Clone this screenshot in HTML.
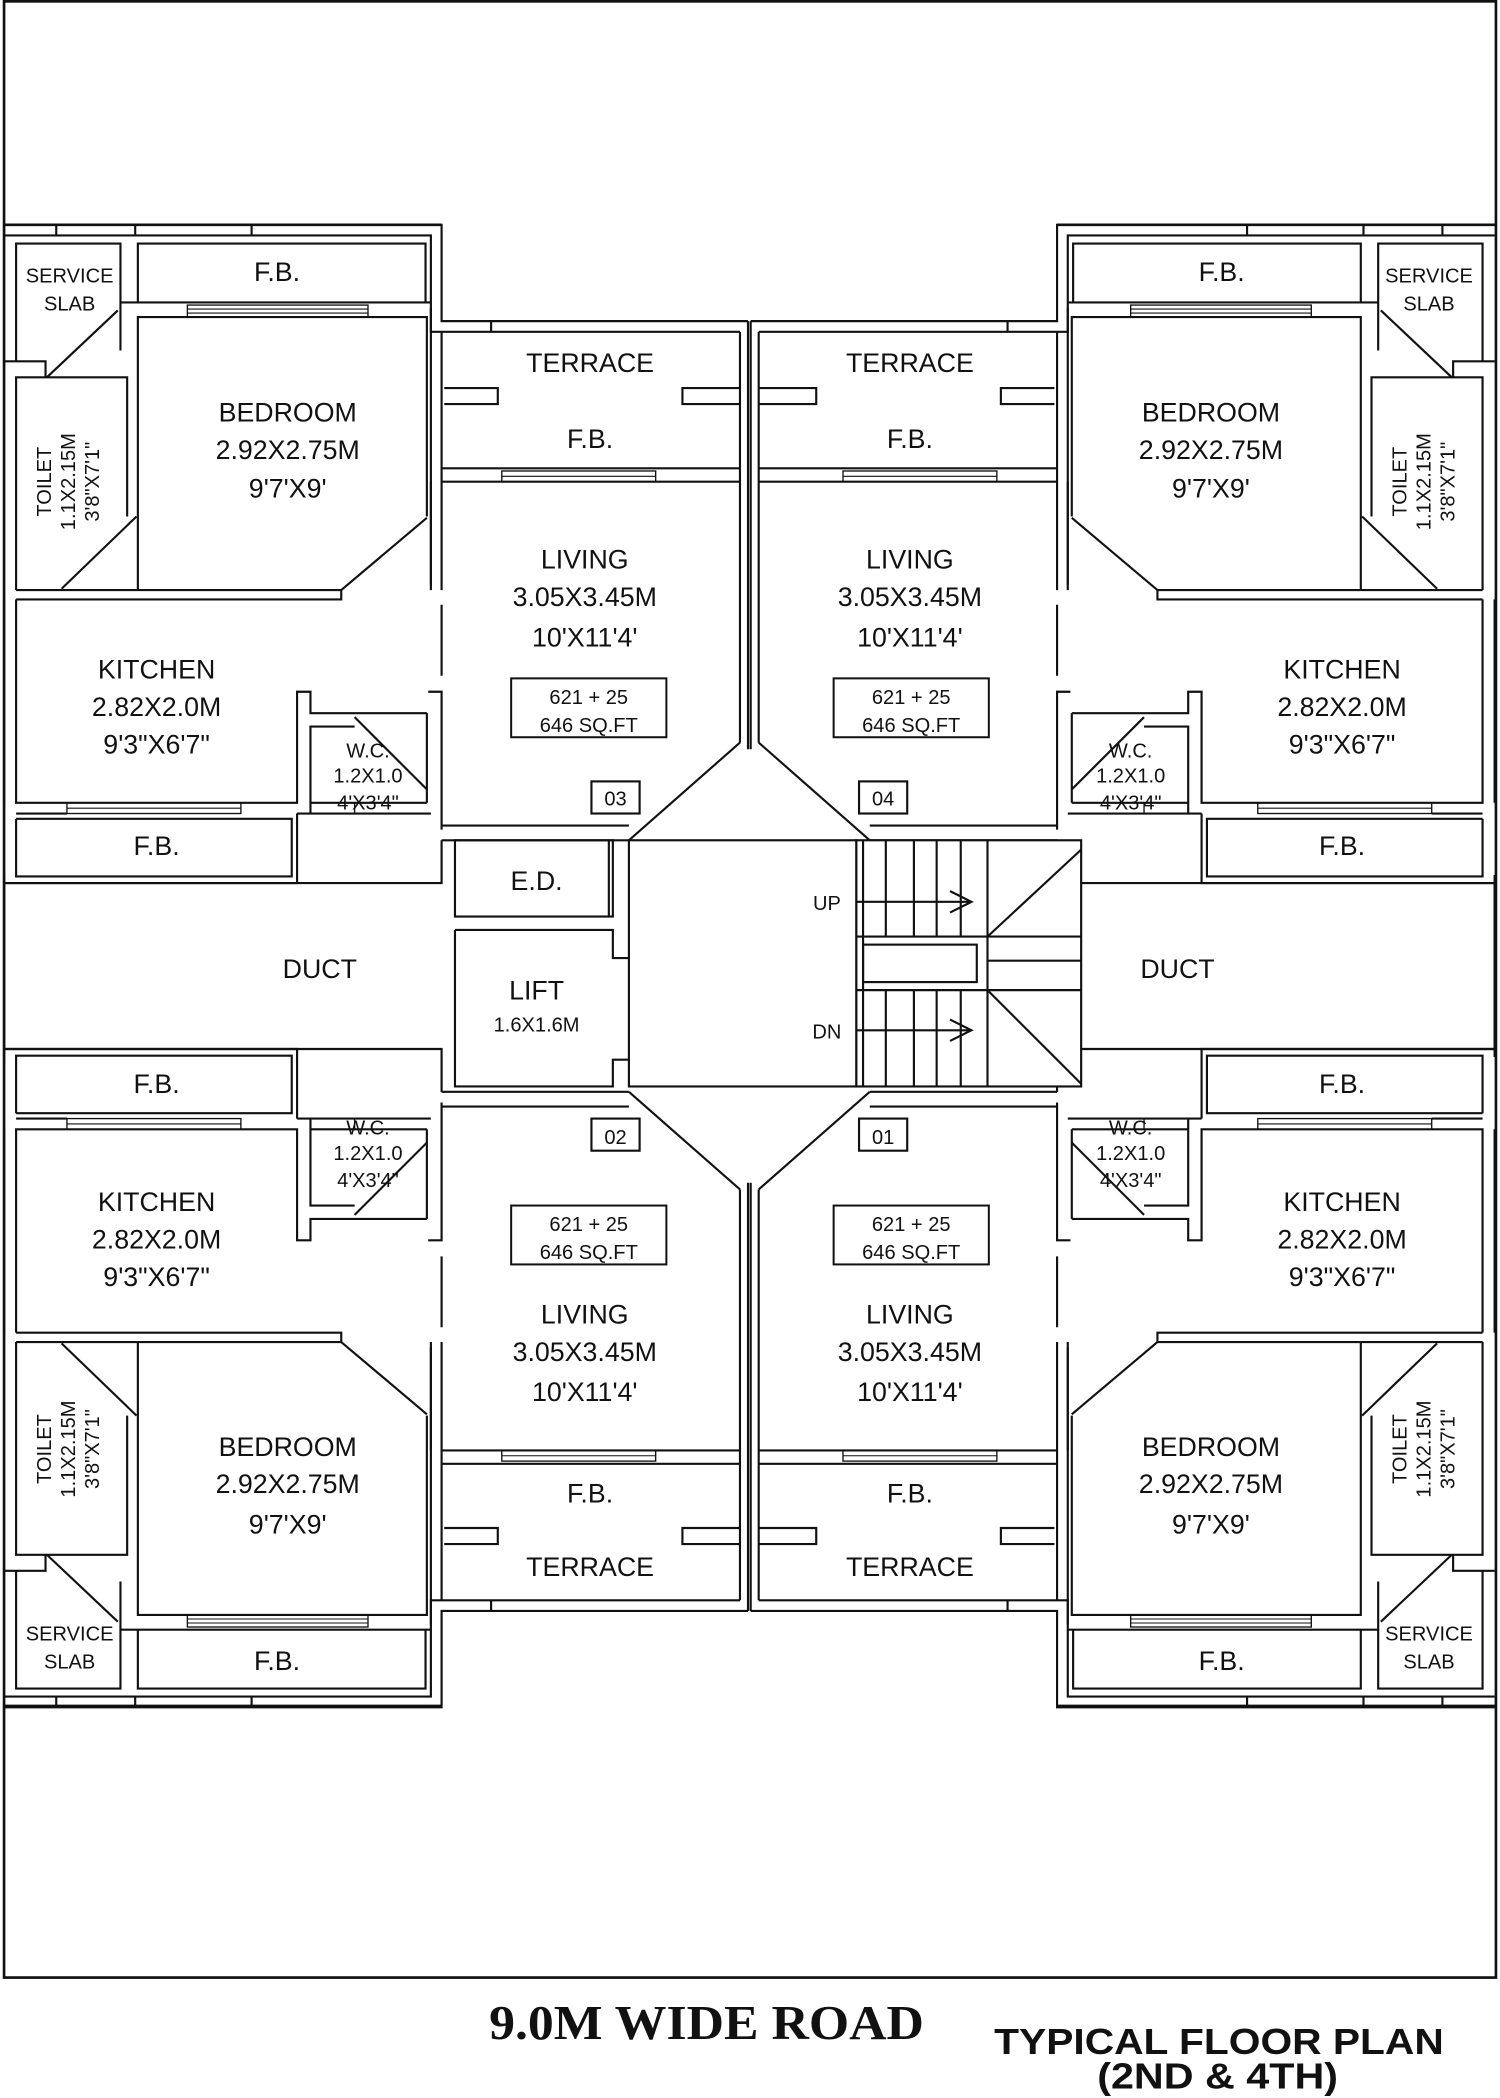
<!DOCTYPE html>
<html><head><meta charset="utf-8"><style>
html,body{margin:0;padding:0;background:#fff}
svg{display:block}
text{font-family:"Liberation Sans",sans-serif;fill:#111;text-anchor:middle}
.r{font-size:20px}
.s{font-size:15px}
</style></head><body>
<svg width="1500" height="2098" viewBox="0 0 1121 1568" xmlns="http://www.w3.org/2000/svg">
<defs>
<g id="q" fill="none" stroke="#111" stroke-width="1.6">
  <path d="M3,168 H330 V240 H559"/>
  <path d="M3,176 H322 V248 H553"/>
  <path d="M12,270 V182 H90 V262"/>
  <line x1="88" y1="232" x2="35" y2="282"/>
  <path d="M3,270 H34 V282"/>
  <path d="M103,226 V182 H318 V226"/>
  <line x1="42" y1="176" x2="42" y2="168"/><line x1="101" y1="176" x2="101" y2="168"/><line x1="188" y1="176" x2="188" y2="168"/><line x1="367" y1="248" x2="367" y2="240"/>
  <path d="M90,226 H322"/>
  <path d="M103,441 V237 H319 V386"/>
  <rect x="140" y="228" width="135" height="9" stroke-width="1"/>
  <line x1="140" y1="231" x2="275" y2="231" stroke-width="0.8"/><line x1="140" y1="234" x2="275" y2="234" stroke-width="0.8"/>
  <line x1="319" y1="387" x2="255" y2="441"/>
  <path d="M322,230 V441"/><path d="M330,248 V441" />
  <path d="M12,448 H255 V441 H103"/>
  <path d="M12,441 V282 H95 V386"/>
  <line x1="102" y1="386" x2="46" y2="440"/>
  <path d="M12,441 H103"/>
  <path d="M12,448 V600 H222 V517 H232 V533 H319"/>
  <path d="M3,448 V600"/>
  <path d="M232,608 V543 H265"/>
  <path d="M319,533 V600"/>
  <path d="M222,608 H322"/>
  <path d="M232,600 H319"/>
  <rect x="232" y="600" width="33" height="8" stroke-width="1"/>
  <path d="M12,608 H50"/>
  <rect x="50" y="600" width="130" height="8" stroke-width="1"/>
  <line x1="50" y1="604" x2="180" y2="604" stroke-width="0.8"/>
  <line x1="265" y1="536" x2="319" y2="590"/>
  <path d="M12,612 V655 H218 V612 H12"/>
  <path d="M222,608 V660 H3"/>
  <path d="M320,517 H330 V620"/>
  <path d="M322,360 V437"/>
  <path d="M330,452 V505"/>
  <path d="M330,350 H553"/><path d="M330,360 H553"/>
  <rect x="375" y="352" width="115" height="8" stroke-width="1"/>
  <line x1="375" y1="356" x2="490" y2="356" stroke-width="0.8"/>
  <path d="M330,617 H470"/><path d="M330,628 H470"/>
  <path d="M553,248 V555"/><path d="M559,240 V560"/>
  <line x1="553" y1="555" x2="470" y2="628"/>
  <path d="M332,290 H372 V302 H332"/>
  <path d="M553,290 H510 V302 H553"/>
  <rect x="442" y="584" width="36" height="24"/>
  <path d="M3,660 V790"/>
  <path d="M330,628 V660 H3"/>
</g>
</defs>
<rect x="3" y="1" width="1115" height="1477" fill="none" stroke="#111" stroke-width="2"/>
<line x1="3" y1="1275" x2="330" y2="1275" stroke="#111" stroke-width="2"/>
<line x1="790" y1="1275" x2="1118" y2="1275" stroke="#111" stroke-width="2"/>
<line x1="3" y1="168" x2="330" y2="168" stroke="#111" stroke-width="2"/>
<line x1="790" y1="168" x2="1118" y2="168" stroke="#111" stroke-width="2"/>

<use href="#q"/>
<use href="#q" transform="translate(1120,0) scale(-1,1)"/>
<use href="#q" transform="translate(0,1444) scale(1,-1)"/>
<use href="#q" transform="translate(1120,1444) scale(-1,-1)"/>

<g fill="none" stroke="#111" stroke-width="1.6">
  <rect x="340" y="628" width="118" height="57"/>
  <line x1="455" y1="628" x2="455" y2="685"/>
  <path d="M340,695 H458 V716 H470 M470,792 H458 V812 H340 V695"/>
  <rect x="470" y="628" width="170" height="184" fill="#fff"/>
  <rect x="640" y="628" width="168" height="184" fill="#fff"/>
  <line x1="645" y1="628" x2="645" y2="812"/>
  <line x1="662" y1="628" x2="662" y2="700"/><line x1="683" y1="628" x2="683" y2="700"/><line x1="700" y1="628" x2="700" y2="700"/><line x1="718" y1="628" x2="718" y2="700"/><line x1="738" y1="628" x2="738" y2="812"/>
  <line x1="662" y1="740" x2="662" y2="812"/><line x1="683" y1="740" x2="683" y2="812"/><line x1="700" y1="740" x2="700" y2="812"/><line x1="718" y1="740" x2="718" y2="812"/>
  <line x1="640" y1="700" x2="808" y2="700"/><line x1="640" y1="740" x2="808" y2="740"/>
  <line x1="738" y1="718" x2="808" y2="718"/>
  <rect x="645" y="706" width="85" height="28"/>
  <line x1="738" y1="700" x2="808" y2="635"/><line x1="738" y1="740" x2="808" y2="810"/>
  <path d="M640,674 H726 M710,666 L726,674 L710,682"/>
  <path d="M640,770 H726 M710,762 L726,770 L710,778"/>
</g>

<text class="s" x="52" y="211">SERVICE</text><text class="s" x="52" y="232">SLAB</text>
<text class="r" x="207" y="210">F.B.</text>
<text class="r" x="441" y="278">TERRACE</text><text class="r" x="441" y="335">F.B.</text>
<text class="r" x="215" y="315">BEDROOM</text><text class="r" x="215" y="343">2.92X2.75M</text><text class="r" x="215" y="372">9'7'X9'</text>
<text class="s" transform="translate(38,360) rotate(-90)">TOILET</text>
<text class="s" transform="translate(56,360) rotate(-90)">1.1X2.15M</text>
<text class="s" transform="translate(74,360) rotate(-90)">3'8"X7'1"</text>
<text class="r" x="437" y="425">LIVING</text><text class="r" x="437" y="453">3.05X3.45M</text><text class="r" x="437" y="483">10'X11'4'</text>
<rect x="382" y="507" width="116" height="44" fill="none" stroke="#111" stroke-width="1.5"/>
<text class="s" x="440" y="526">621  +  25</text><text class="s" x="440" y="547">646  SQ.FT</text>
<text class="r" x="117" y="507">KITCHEN</text><text class="r" x="117" y="535">2.82X2.0M</text><text class="r" x="117" y="563">9'3"X6'7"</text>
<text class="s" x="275" y="566">W.C.</text><text class="s" x="275" y="585">1.2X1.0</text><text class="s" x="275" y="605">4'X3'4"</text>
<text class="r" x="117" y="639">F.B.</text>
<text class="s" x="460" y="602">03</text>
<text class="s" x="1068" y="211">SERVICE</text><text class="s" x="1068" y="232">SLAB</text>
<text class="r" x="913" y="210">F.B.</text>
<text class="r" x="680" y="278">TERRACE</text><text class="r" x="680" y="335">F.B.</text>
<text class="r" x="905" y="315">BEDROOM</text><text class="r" x="905" y="343">2.92X2.75M</text><text class="r" x="905" y="372">9'7'X9'</text>
<text class="s" transform="translate(1051,360) rotate(-90)">TOILET</text>
<text class="s" transform="translate(1069,360) rotate(-90)">1.1X2.15M</text>
<text class="s" transform="translate(1087,360) rotate(-90)">3'8"X7'1"</text>
<text class="r" x="680" y="425">LIVING</text><text class="r" x="680" y="453">3.05X3.45M</text><text class="r" x="680" y="483">10'X11'4'</text>
<rect x="623" y="507" width="116" height="44" fill="none" stroke="#111" stroke-width="1.5"/>
<text class="s" x="681" y="526">621  +  25</text><text class="s" x="681" y="547">646  SQ.FT</text>
<text class="r" x="1003" y="507">KITCHEN</text><text class="r" x="1003" y="535">2.82X2.0M</text><text class="r" x="1003" y="563">9'3"X6'7"</text>
<text class="s" x="845" y="566">W.C.</text><text class="s" x="845" y="585">1.2X1.0</text><text class="s" x="845" y="605">4'X3'4"</text>
<text class="r" x="1003" y="639">F.B.</text>
<text class="s" x="660" y="602">04</text>
<text class="r" x="401" y="665">E.D.</text>
<text class="r" x="401" y="747">LIFT</text><text class="s" x="401" y="771">1.6X1.6M</text>
<text class="r" x="239" y="731">DUCT</text><text class="r" x="880" y="731">DUCT</text>
<text class="s" x="618" y="680">UP</text><text class="s" x="618" y="776">DN</text>
<text class="r" x="117" y="817">F.B.</text>
<text class="s" x="275" y="848">W.C.</text><text class="s" x="275" y="867">1.2X1.0</text><text class="s" x="275" y="887">4'X3'4"</text>
<text class="r" x="117" y="905">KITCHEN</text><text class="r" x="117" y="933">2.82X2.0M</text><text class="r" x="117" y="961">9'3"X6'7"</text>
<rect x="382" y="901" width="116" height="44" fill="none" stroke="#111" stroke-width="1.5"/>
<text class="s" x="440" y="920">621  +  25</text><text class="s" x="440" y="941">646  SQ.FT</text>
<text class="r" x="437" y="989">LIVING</text><text class="r" x="437" y="1017">3.05X3.45M</text><text class="r" x="437" y="1047">10'X11'4'</text>
<text class="r" x="215" y="1088">BEDROOM</text><text class="r" x="215" y="1116">2.92X2.75M</text><text class="r" x="215" y="1146">9'7'X9'</text>
<text class="s" transform="translate(38,1083) rotate(-90)">TOILET</text>
<text class="s" transform="translate(56,1083) rotate(-90)">1.1X2.15M</text>
<text class="s" transform="translate(74,1083) rotate(-90)">3'8"X7'1"</text>
<text class="r" x="441" y="1123">F.B.</text><text class="r" x="441" y="1178">TERRACE</text>
<text class="s" x="52" y="1226">SERVICE</text><text class="s" x="52" y="1247">SLAB</text>
<text class="r" x="207" y="1248">F.B.</text>
<text class="s" x="460" y="855">02</text>
<text class="r" x="1003" y="817">F.B.</text>
<text class="s" x="845" y="848">W.C.</text><text class="s" x="845" y="867">1.2X1.0</text><text class="s" x="845" y="887">4'X3'4"</text>
<text class="r" x="1003" y="905">KITCHEN</text><text class="r" x="1003" y="933">2.82X2.0M</text><text class="r" x="1003" y="961">9'3"X6'7"</text>
<rect x="623" y="901" width="116" height="44" fill="none" stroke="#111" stroke-width="1.5"/>
<text class="s" x="681" y="920">621  +  25</text><text class="s" x="681" y="941">646  SQ.FT</text>
<text class="r" x="680" y="989">LIVING</text><text class="r" x="680" y="1017">3.05X3.45M</text><text class="r" x="680" y="1047">10'X11'4'</text>
<text class="r" x="905" y="1088">BEDROOM</text><text class="r" x="905" y="1116">2.92X2.75M</text><text class="r" x="905" y="1146">9'7'X9'</text>
<text class="s" transform="translate(1051,1083) rotate(-90)">TOILET</text>
<text class="s" transform="translate(1069,1083) rotate(-90)">1.1X2.15M</text>
<text class="s" transform="translate(1087,1083) rotate(-90)">3'8"X7'1"</text>
<text class="r" x="680" y="1123">F.B.</text><text class="r" x="680" y="1178">TERRACE</text>
<text class="s" x="1068" y="1226">SERVICE</text><text class="s" x="1068" y="1247">SLAB</text>
<text class="r" x="913" y="1248">F.B.</text>
<text class="s" x="660" y="855">01</text>

<text x="528" y="1524" style="font-family:'Liberation Serif',serif;font-weight:bold;font-size:36px" textLength="325" lengthAdjust="spacingAndGlyphs">9.0M WIDE ROAD</text>
<text x="911" y="1535" style="font-weight:bold;font-size:27px" textLength="336" lengthAdjust="spacingAndGlyphs">TYPICAL FLOOR PLAN</text>
<text x="910" y="1561" style="font-weight:bold;font-size:27px" textLength="180" lengthAdjust="spacingAndGlyphs">(2ND &amp; 4TH)</text>
</svg>
</body></html>
